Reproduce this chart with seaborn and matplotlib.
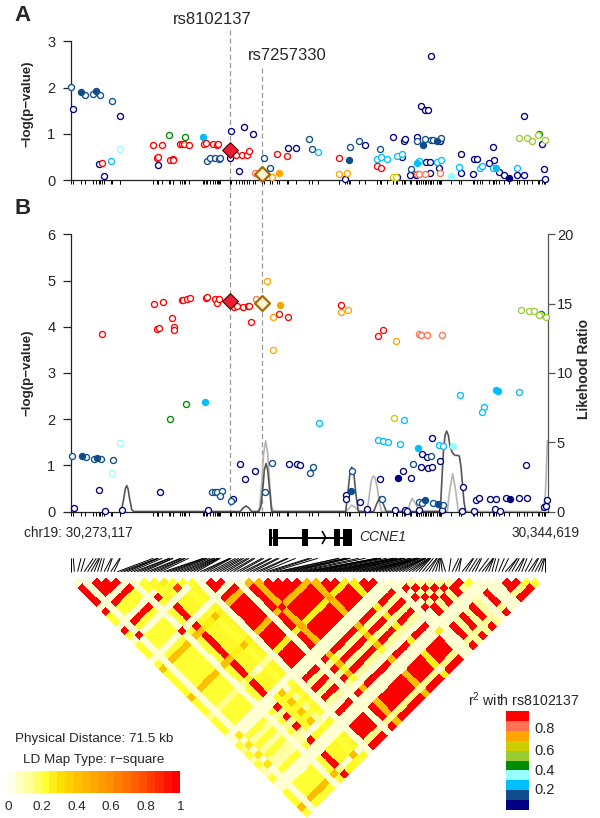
import numpy as np
import matplotlib
matplotlib.use('Agg')
import matplotlib.pyplot as plt
import seaborn as sns
from matplotlib.collections import LineCollection
from matplotlib.colors import LinearSegmentedColormap, ListedColormap

# r2 classes, colours as in the legend (top to bottom)
R2_COLORS = ['#FF0000', '#FF7256', '#FFA500', '#CDCD00', '#9ACD32',
             '#008B00', '#97FFFF', '#00BFFF', '#104E8B', '#000080']
R2_LABELS = ['0.8', '0.6', '0.4', '0.2']

# Panel A, position in kb from 30,273,117 and -log(p)
A_NAVY_POS = [0.35, 7.4, 4.15, 5, 13.1, 24.05, 25.95, 27.35, 23.9, 25.15, 32.6, 33.7, 53.95, 52.45, 53.15, 53.6, 67.9, 48.35, 49.9, 50.1, 51.95, 55.4, 44.15, 63.3, 58.55, 70.7, 60.4, 60.95, 63.4, 62.65, 53.25, 53.8, 49.6, 55.2, 70.95, 58.5, 60.3, 64.2, 65, 66.95, 68, 71.1, 41.15, 50.8, 51.7, 51.9, 53.85]
A_NAVY_VAL = [1.54, 1.38, .34, .09, .32, 1.07, 1.15, .99, .48, .2, .69, .69, 2.68, 1.59, 1.51, 1.51, 1.38, .92, .84, .88, .92, .84, .76, .71, .57, .78, .45, .46, .425, .37, .40, .40, .50, .25, .24, .15, .14, .17, .115, .10, .10, .03, .015, .115, .115, .14, .16]
A_NAVY_F_POS = [48.9, 65.65]
A_NAVY_F_VAL = [.07, .04]
A_BLUE_POS = [0, 2.1, 3.35, 4.3, 6.2, 28.95, 29.9, 20.45, 20.9, 21.6, 22.25, 22.4, 35.7, 36.1, 41.9, 43.15, 46.35, 51.05, 51.95, 53.1, 53.95, 54.35, 55.45]
A_BLUE_VAL = [2.02, 1.83, 1.85, 1.83, 1.70, .48, .25, .42, .48, .48, .45, .48, .88, .68, .71, .85, .66, .23, .85, .88, .865, .86, .9]
A_BLUE_F_POS = [1.5, 3.8, 41.75, 52.85, 54.85]
A_BLUE_F_VAL = [1.90, 1.93, .44, .76, .84]
A_SKY_POS = [6.05, 37, 45.85, 46.5, 47.35, 48.95, 49.7, 52.2, 54.95, 55.55, 58.15, 61.4, 61.6, 63.35, 66.95]
A_SKY_VAL = [.41, .6, .455, .5, .455, .51, .56, .405, .38, .44, .28, .25, .3, .25, .27]
A_SKY_F_POS = [19.85, 51.85, 63.7]
A_SKY_F_VAL = [.92, .37, .25]
A_CYAN_POS = [7.3]
A_CYAN_VAL = [.66]
A_CYAN_F_POS = [57]
A_CYAN_F_VAL = [.085]
A_GREEN_POS = [14.75, 17.15, 70.15]
A_GREEN_VAL = [.97, .92, 1.0]
A_LIME_POS = [67.25, 68.4, 69.2, 70, 71.05]
A_LIME_VAL = [.91, .91, .85, .97, .865]
A_GOLD_POS = [48.3, 48.7]
A_GOLD_VAL = [.06, .07]
A_ORANGE_POS = [30.1, 40.25, 41.35]
A_ORANGE_VAL = [.06, .14, .16]
A_ORANGE_F_POS = [31.25]
A_ORANGE_F_VAL = [.16]
A_CORAL_POS = [27.6, 51.85, 52.25, 53.15, 55.3]
A_CORAL_VAL = [.15, .14, .14, .14, .16]
A_RED_POS = [4.6, 12.35, 13.65, 12.95, 13.1, 14.85, 15.25, 15.35, 16.4, 16.6, 17, 17.65, 20, 20.25, 21.35, 21.95, 22.1, 24.7, 25.6, 26.45, 26.75, 30.95, 32.4, 40.15, 45.85, 46.5]
A_RED_VAL = [.375, .76, .76, .48, .5, .43, .46, .44, .78, .78, .77, .76, .77, .79, .78, .76, .78, .55, .54, .54, .63, .555, .525, .48, .295, .25]
A_SNP_POS = [23.8, 28.65]
A_SNP_VAL = [.64, .14]

# Panel B
B_NAVY_POS = [54.2, 52.65, 53.35, 55.4, 52.45, 53.55, 54.1, 49.75, 51.05, 46.35, 68.2, 58.75, 41.3, 41.3, 43.4, 44.4, 48.6, 50.1, 50.35, 52.25, 55.6, 58.7, 60.5, 63.55, 64.4, 60.7, 61.2, 62.85, 63.7, 65.2, 67.2, 68.35, 70.9, 71.25, 71.35, 0.5, 4.25, 5.05, 7.6, 13.3, 20.6, 25.35, 26.15, 27.55, 24.3, 32.75, 33.9, 34.35]
B_NAVY_VAL = [1.59, 1.24, 1.19, 1.09, .96, .94, .96, .87, .72, .71, 1.0, .53, .35, .27, .2, .05, .04, .04, .02, .04, .03, .02, .02, .05, .02, .25, .3, .27, .27, .3, .3, .3, .09, .11, .24, .08, .46, .01, .04, .42, .04, 1.02, .71, .87, .27, 1.03, 1.02, 1.0]
B_NAVY_F_POS = [49.1, 65.9]
B_NAVY_F_VAL = [.735, .27]
B_BLUE_POS = [0.15, 2.25, 3.5, 4.5, 6.35, 21.1, 21.6, 21.95, 22.6, 22.4, 24.05, 29.1, 30.1, 36.3, 35.9, 54.05, 51.3, 42.1, 46.65, 52.2, 52.7, 54.25, 55.75]
B_BLUE_VAL = [1.2, 1.18, 1.14, 1.14, 1.12, .43, .425, .43, .45, .33, .22, .43, 1.06, .96, .84, 1.2, 1.03, .87, .27, .2, .19, .18, .15]
B_BLUE_F_POS = [1.65, 3.9, 41.95, 53.15, 55.05]
B_BLUE_F_VAL = [1.2, 1.15, .45, .25, .17]
B_SKY_POS = [37.2, 49.9, 61.9, 61.7, 46.1, 46.75, 47.6, 49.3, 55.15, 55.8, 58.4, 67.2]
B_SKY_VAL = [1.91, 1.97, 2.26, 2.16, 1.54, 1.52, 1.5, 1.46, 1.43, 1.41, 2.53, 2.58]
B_SKY_F_POS = [20.05, 52.05, 63.7, 64]
B_SKY_F_VAL = [2.38, 1.37, 2.63, 2.61]
B_CYAN_POS = [7.3, 6.1]
B_CYAN_VAL = [1.49, .83]
B_CYAN_F_POS = [57.3]
B_CYAN_F_VAL = [1.41]
B_GREEN_POS = [14.9, 17.3, 70.45]
B_GREEN_VAL = [2.01, 2.32, 4.28]
B_LIME_POS = [67.5, 68.65, 69.45, 70.25, 71.3]
B_LIME_VAL = [4.36, 4.35, 4.35, 4.26, 4.22]
B_GOLD_POS = [48.4]
B_GOLD_VAL = [2.03]
B_ORANGE_POS = [29.45, 30.25, 30.25, 40.45, 41.55, 48.75]
B_ORANGE_VAL = [5.0, 4.22, 3.5, 4.31, 4.36, 3.69]
B_ORANGE_F_POS = [31.4]
B_ORANGE_F_VAL = [4.48]
B_CORAL_POS = [27.75, 52.15, 52.5, 53.45, 55.6]
B_CORAL_VAL = [4.6, 3.84, 3.81, 3.81, 3.82]
B_RED_POS = [12.5, 13.75, 16.6, 16.8, 17.4, 17.9, 20.25, 20.45, 21.6, 21.95, 22.25, 24.45, 24.85, 25.75, 26.6, 26.75, 15.15, 12.95, 13.25, 15.45, 15.5, 4.7, 26.95, 31.15, 32.6, 40.45, 46.8, 46.05]
B_RED_VAL = [4.49, 4.53, 4.57, 4.58, 4.59, 4.63, 4.63, 4.64, 4.61, 4.52, 4.59, 4.42, 4.44, 4.43, 4.44, 4.45, 4.18, 3.95, 3.97, 4.0, 3.93, 3.85, 4.10, 4.28, 4.22, 4.46, 3.92, 3.79]
B_SNP_POS = [23.8, 28.65]
B_SNP_VAL = [4.55, 4.51]

# Likelihood ratio curves (right axis of panel B)
DARK_POS = [7.3, 7.6, 7.9, 8.15, 8.35, 8.55, 8.8, 9.1, 9.4, 25.4, 25.8, 26.25, 26.7, 27.1, 28.2, 28.5, 28.8, 29.0, 29.25, 29.5, 29.75, 30.1, 41.2, 41.5, 41.8, 42.1, 42.4, 42.7, 43.1, 45.4, 45.9, 46.35, 46.8, 47.3, 55.4, 55.6, 55.85, 56.1, 56.35, 56.6, 56.85, 57.2, 57.6, 57.95, 58.25, 58.5, 58.75, 58.95, 59.2]
DARK_LR = [0, .15, .9, 1.65, 1.87, 1.65, .9, .15, 0, 0, .25, .4, .25, 0, 0, .4, 1.8, 3.0, 3.46, 3.0, 1.8, 0, 0, 1.2, 2.6, 3.2, 2.9, 1.4, 0, 0, .6, 1.06, .6, 0, 0, 2.0, 4.2, 5.5, 5.8, 5.5, 4.7, 4.25, 4.05, 4.05, 4.0, 3.2, 1.8, .7, 0]
LIGHT_POS = [28.0, 28.3, 28.6, 28.9, 29.2, 29.5, 29.8, 30.1, 30.4, 41.3, 41.8, 42.1, 42.5, 43, 43.7, 44.4, 44.7, 45, 45.3, 45.6, 45.95, 46.2, 46.55, 50.5, 50.85, 51.15, 51.5, 52, 52.4, 56.45, 56.8, 57.25, 57.7, 58.1, 70.5, 70.9, 71.15, 71.3, 71.45]
LIGHT_LR = [0, .3, 2, 4.2, 5.1, 4.2, 2, .3, 0, 0, .3, .46, .35, .12, 0, 0, 1, 2.1, 2.55, 2.45, 1.7, .8, 0, 0, .6, .94, .7, .3, 0, 0, 1.5, 2.74, 1.5, 0, 0, .3, 1.2, 3, 5.1]

# CCNE1 gene model, kb
EXON_START = [29.65, 30.3, 34.7, 39.5, 40.75]
EXON_END = [30.15, 31.0, 35.5, 40.4, 42.2]
GENE_START, GENE_END = 30.3, 41.0

# LD triangle: 50 SNPs, class per SNP and r2 between classes
LD_CLASSES = 'AEAAAACARBDABCRRRCRGRRRRRGRRRYRRRCZRQRQRQTRCCRRRHR'
LD_PAIRS = {'AA': 1, 'AR': .2, 'AB': .2, 'AG': .4, 'AY': .12, 'AQ': .1, 'AT': .08, 'AH': .42,
            'RR': 1, 'RB': .22, 'RD': .22, 'RG': .42, 'RY': .25, 'RQ': .1, 'RH': .12,
            'GG': 1, 'GY': .5, 'GB': .25, 'GD': .25, 'GQ': .2, 'GH': .1,
            'BB': .2, 'BD': .25, 'BQ': .2, 'BZ': .2, 'BY': .1, 'DQ': .38, 'DZ': .38,
            'EQ': .28, 'EZ': .28, 'QQ': 1, 'QZ': 1, 'ZZ': 1, 'QT': .1, 'QY': .08,
            'QH': .08, 'AZ': .03}
LD_CELLS = [(1, 13, 1), (6, 17, 1), (10, 12, .85), (10, 11, .2), (12, 13, .2), (35, 41, 1), (37, 41, 1), (39, 41, 1), (40, 41, 1), (33, 44, .25), (41, 42, .2), (47, 48, .2), (48, 49, .2)]
LD_LOW = .03
LD_LEVELS = [.0, .05, .1, .15, .2, .25, .3, .35, .4, .45, .5, .55, .6, .65, .7, .75, .8, .85, .9, .95, 1]
LD_TICKS = ['0', '0.2', '0.4', '0.6', '0.8', '1']

sns.set_style('white')
plt.rcParams['font.family'] = ['Liberation Sans', 'DejaVu Sans']
plt.rcParams['mathtext.default'] = 'regular'

W, H = 600, 818
X0, X1, KB_END = 71, 548, 71.55
fig = plt.figure(figsize=(W / 100, H / 100), dpi=100)


def axes_px(left, top, right, bottom):
    return fig.add_axes([left / W, 1 - bottom / H, (right - left) / W, (bottom - top) / H])


def kb_px(kb):
    return X0 + np.asarray(kb) * (X1 - X0) / KB_END


# page axes in pixels, for labels and the LD map
page = axes_px(0, 0, W, H)
page.set_xlim(0, W)
page.set_ylim(H, 0)
page.axis('off')

rug = sorted(A_NAVY_POS + A_NAVY_F_POS + A_BLUE_POS + A_BLUE_F_POS + A_SKY_POS + A_SKY_F_POS
             + A_CYAN_POS + A_CYAN_F_POS + A_GREEN_POS + A_LIME_POS + A_GOLD_POS + A_ORANGE_POS
             + A_ORANGE_F_POS + A_CORAL_POS + A_RED_POS + A_SNP_POS)

series_a = [(A_NAVY_POS, A_NAVY_VAL, 9, False), (A_NAVY_F_POS, A_NAVY_F_VAL, 9, True),
            (A_BLUE_POS, A_BLUE_VAL, 8, False), (A_BLUE_F_POS, A_BLUE_F_VAL, 8, True),
            (A_SKY_POS, A_SKY_VAL, 7, False), (A_SKY_F_POS, A_SKY_F_VAL, 7, True),
            (A_CYAN_POS, A_CYAN_VAL, 6, False), (A_CYAN_F_POS, A_CYAN_F_VAL, 6, True),
            (A_GREEN_POS, A_GREEN_VAL, 5, False), (A_LIME_POS, A_LIME_VAL, 4, False),
            (A_GOLD_POS, A_GOLD_VAL, 3, False), (A_ORANGE_POS, A_ORANGE_VAL, 2, False),
            (A_ORANGE_F_POS, A_ORANGE_F_VAL, 2, True), (A_CORAL_POS, A_CORAL_VAL, 1, False),
            (A_RED_POS, A_RED_VAL, 0, False)]
series_b = [(B_NAVY_POS, B_NAVY_VAL, 9, False), (B_NAVY_F_POS, B_NAVY_F_VAL, 9, True),
            (B_BLUE_POS, B_BLUE_VAL, 8, False), (B_BLUE_F_POS, B_BLUE_F_VAL, 8, True),
            (B_SKY_POS, B_SKY_VAL, 7, False), (B_SKY_F_POS, B_SKY_F_VAL, 7, True),
            (B_CYAN_POS, B_CYAN_VAL, 6, False), (B_CYAN_F_POS, B_CYAN_F_VAL, 6, True),
            (B_GREEN_POS, B_GREEN_VAL, 5, False), (B_LIME_POS, B_LIME_VAL, 4, False),
            (B_GOLD_POS, B_GOLD_VAL, 3, False), (B_ORANGE_POS, B_ORANGE_VAL, 2, False),
            (B_ORANGE_F_POS, B_ORANGE_F_VAL, 2, True), (B_CORAL_POS, B_CORAL_VAL, 1, False),
            (B_RED_POS, B_RED_VAL, 0, False)]


def draw_panel(ax, series, snp_pos, snp_val, ymax):
    ax.patch.set_alpha(0)
    for pos, val, idx, filled in series:
        color = R2_COLORS[idx]
        sns.scatterplot(x=pos, y=val, ax=ax, s=19, facecolor=color if filled else 'white',
                        edgecolor=color, linewidth=0.95, clip_on=False, zorder=3, legend=False)
    ax.scatter(snp_pos[0], snp_val[0], marker='D', s=64, color='#EE1C2E', edgecolor='#3a0a0a',
               linewidth=0.8, clip_on=False, zorder=4)
    ax.scatter(snp_pos[1], snp_val[1], marker='D', s=58, color='#FFF4D6', edgecolor='#A86A00',
               linewidth=1.6, clip_on=False, zorder=4)
    ax.set_xlim(0, KB_END)
    ax.set_ylim(0, ymax)
    ax.set_yticks(range(ymax + 1))
    ax.set_xticks(rug)
    ax.set_xticklabels([])
    ax.tick_params(axis='x', length=3, width=0.7, color='black', bottom=True)
    ax.tick_params(axis='y', length=5.8, width=0.9, color='#222222', labelsize=10.5, pad=5.5, left=True)
    for side in ['top', 'right']:
        ax.spines[side].set_visible(False)
    ax.spines['left'].set_color('#222222')
    ax.spines['bottom'].set_color('#222222')
    ax.spines['left'].set_linewidth(0.9)
    ax.spines['bottom'].set_linewidth(0.9)


ax_a = axes_px(X0, 41.3, X1, 180)
draw_panel(ax_a, series_a, A_SNP_POS, A_SNP_VAL, 3)

ax_b = axes_px(X0, 234.3, X1, 511.5)
ax_lr = ax_b.twinx()
ax_lr.patch.set_alpha(0)
sns.lineplot(x=LIGHT_POS, y=LIGHT_LR, ax=ax_lr, color='#B4B4B4', linewidth=1.2, sort=False, estimator=None)
sns.lineplot(x=DARK_POS, y=DARK_LR, ax=ax_lr, color='#555555', linewidth=1.2, sort=False, estimator=None)
ax_lr.set_ylim(0, 20)
ax_lr.set_yticks([0, 5, 10, 15, 20])
ax_lr.tick_params(axis='y', length=4.8, width=0.9, color='#555555', labelsize=10.5, pad=1.5, right=True)
for side in ['top', 'left', 'bottom']:
    ax_lr.spines[side].set_visible(False)
ax_lr.spines['right'].set_color('#555555')
ax_lr.spines['right'].set_linewidth(0.9)
ax_b.set_zorder(ax_lr.get_zorder() + 1)
draw_panel(ax_b, series_b, B_SNP_POS, B_SNP_VAL, 6)

# dashed guides through both panels
page.plot(kb_px([A_SNP_POS[0]] * 2), [30, 511], color='#999999', lw=0.9, ls=(0, (4, 2.5)))
page.plot(kb_px([A_SNP_POS[1]] * 2), [68, 511], color='#999999', lw=0.9, ls=(0, (4, 2.5)))

page.text(14, 15.5, 'A', fontsize=16, fontweight='bold', ha='left', va='center')
page.text(15, 208, 'B', fontsize=16, fontweight='bold', ha='left', va='center')
page.text(212, 20, 'rs8102137', fontsize=12, ha='center', va='center')
page.text(287, 55, 'rs7257330', fontsize=12, ha='center', va='center')
page.text(27, 104, '−log(p−value)', fontsize=9.6, fontweight='bold', rotation=90, ha='center', va='center')
page.text(27, 373, '−log(p−value)', fontsize=9.6, fontweight='bold', rotation=90, ha='center', va='center')
page.text(584, 369, 'Likehood Ratio', fontsize=10, fontweight='bold', rotation=90, ha='center', va='center')
page.text(78, 533, 'chr19: 30,273,117', fontsize=9.8, ha='center', va='center')
page.text(546, 533, '30,344,619', fontsize=9.8, ha='center', va='center')
page.text(359, 537, 'CCNE1', fontsize=10, style='italic', ha='left', va='center')

# gene model
ax_gene = axes_px(X0, 529, X1, 546)
ax_gene.axis('off')
ax_gene.set_xlim(0, KB_END)
ax_gene.set_ylim(0, 1)
ax_gene.plot([GENE_START, GENE_END], [.5, .5], color='black', lw=1.4)
ax_gene.barh(.5, np.subtract(EXON_END, EXON_START), left=EXON_START, height=1, color='black', linewidth=0)
ax_gene.plot([37.7, 38.2, 37.7], [.85, .5, .15], color='black', lw=1.2)

# connectors from SNP position to evenly spaced slots
slots = np.linspace(71, 545, len(rug))
segments = [[(kb_px(p), 558.3), (s, 571.7)] for p, s in zip(rug, slots)]
page.add_collection(LineCollection(segments, colors='black', linewidths=0.7))

# LD map
ld_cmap = LinearSegmentedColormap.from_list('ld', [(0, '#FFFFE8'), (.1, '#FFFF99'), (.2, '#FFFF33'),
                                                   (.3, '#FFE000'), (.4, '#FFC000'), (.6, '#FF9000'),
                                                   (.8, '#FF5000'), (1, '#FF0000')])
n = len(LD_CLASSES)
r2 = np.full((n, n), np.nan)
for i in range(n):
    for j in range(i + 1, n):
        a, b = LD_CLASSES[i], LD_CLASSES[j]
        r2[i, j] = LD_PAIRS.get(a + b, LD_PAIRS.get(b + a, LD_LOW))
for i, j, v in LD_CELLS:
    r2[i, j] = v
step = (540 - 73) / (n - 1)
edges = np.arange(n + 1) - .5
u, v = np.meshgrid(edges, edges, indexing='ij')
page.pcolormesh(73 + (u + v) / 2 * step, 583 + (v - u - 1) / 2 * step, np.ma.masked_invalid(r2),
                cmap=ld_cmap, vmin=0, vmax=1, antialiased=False)

# LD legend
page.text(94, 739, 'Physical Distance: 71.5 kb', fontsize=9.7, ha='center', va='center')
page.text(94, 760, 'LD Map Type: r−square', fontsize=9.7, ha='center', va='center')
ax_ld = axes_px(8, 771, 180, 793)
sns.heatmap([LD_LEVELS], ax=ax_ld, cmap=ld_cmap, vmin=0, vmax=1, cbar=False, xticklabels=False, yticklabels=False)
for k, label in enumerate(LD_TICKS):
    page.text(8 + k * 34.4, 807, label, fontsize=9.7, ha='center', va='center')

# r2 legend
page.text(524, 700, 'r$^2$ with rs8102137', fontsize=10.2, ha='center', va='center')
ax_r2 = axes_px(506, 711, 529.3, 810)
sns.heatmap(np.arange(len(R2_COLORS)).reshape(-1, 1), ax=ax_r2, cmap=ListedColormap(R2_COLORS),
            cbar=False, xticklabels=False, yticklabels=False)
for label, y in zip(R2_LABELS, [729, 751, 771, 790]):
    page.text(534, y, label, fontsize=10.5, ha='left', va='center')

fig.savefig('out.png', dpi=100)
